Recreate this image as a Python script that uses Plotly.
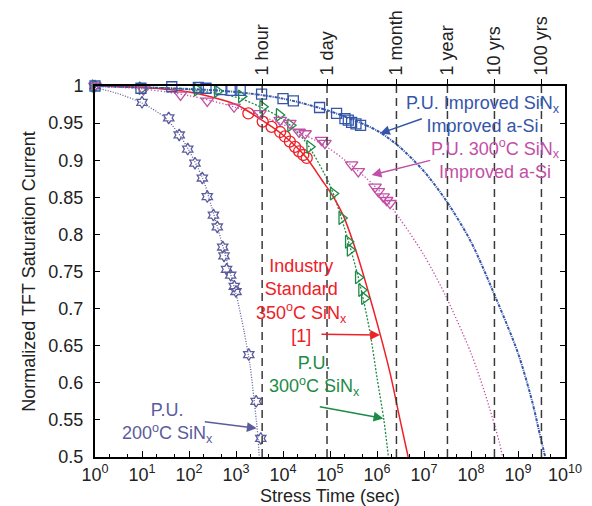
import plotly.graph_objects as go
import math

# ---------------- data ----------------
# P.U. Improved SiNx / Improved a-Si (blue squares)
blue_t = [1, 9.5, 43, 158, 230, 480, 815, 1230, 3500, 10000, 16600, 60000, 138000, 208000, 245000, 288000, 357000, 447000]
blue_v = [1.0, 0.997, 0.999, 0.998, 0.997, 0.995, 0.994, 0.994, 0.989, 0.983, 0.980, 0.971, 0.963, 0.956, 0.954, 0.951, 0.949, 0.947]
blue_fit_t = [1, 10, 100, 1e3, 1e4, 1e5, 1e6, 3e6, 1e7, 3e7, 1e8, 3e8, 1e9, 2e9, 3e9, 3.8e9]
blue_fit_v = [1.0, 0.998, 0.996, 0.992, 0.983, 0.966, 0.940, 0.918, 0.885, 0.845, 0.790, 0.722, 0.640, 0.575, 0.527, 0.5]

# P.U. 300C SiNx / Improved a-Si (magenta down triangles)
mag_t = [1, 10.7, 66, 245, 910, 3230, 8700, 14000, 22000, 29500, 66000, 78000, 288000, 400000, 910000, 1070000, 1350000, 1600000, 1900000]
mag_v = [1.0, 0.995, 0.988, 0.980, 0.972, 0.963, 0.954, 0.950, 0.938, 0.936, 0.927, 0.923, 0.894, 0.885, 0.864, 0.858, 0.851, 0.846, 0.842]
mag_fit_t = [1, 10, 100, 1e3, 1e4, 1e5, 1e6, 3e6, 1e7, 3e7, 1e8, 2e8, 4e8, 4.7e8]
mag_fit_v = [1.0, 0.996, 0.987, 0.971, 0.948, 0.915, 0.862, 0.822, 0.772, 0.715, 0.640, 0.585, 0.520, 0.5]

# Industry standard 350C SiNx [1] (red circles)
red_t = [1830, 3700, 5700, 8700, 11000, 14000, 18000, 22000, 27000, 32000]
red_v = [0.963, 0.952, 0.945, 0.938, 0.932, 0.925, 0.918, 0.912, 0.907, 0.903]
red_fit_t = [1, 10, 100, 1e3, 3e3, 1e4, 3e4, 6.6e4, 1.17e5, 1.9e5, 3.7e5, 6e5, 1.15e6, 1.9e6, 3.1e6, 4.6e6]
red_fit_v = [1.0, 0.998, 0.992, 0.975, 0.957, 0.934, 0.905, 0.874, 0.851, 0.826, 0.775, 0.731, 0.667, 0.613, 0.550, 0.5]

# P.U. 300C SiNx (green right triangles)
grn_t = [1, 10, 150, 400, 1300, 3700, 8300, 14500, 37000, 117000, 178000, 245000, 268000, 400000, 470000, 540000]
grn_v = [1.0, 0.997, 0.995, 0.993, 0.986, 0.972, 0.961, 0.947, 0.918, 0.855, 0.822, 0.790, 0.779, 0.742, 0.725, 0.714]
grn_fit_t = [1, 10, 100, 1e3, 3e3, 1e4, 3e4, 1e5, 2e5, 4e5, 7e5, 1e6, 1.4e6, 1.75e6]
grn_fit_v = [1.0, 0.999, 0.995, 0.985, 0.973, 0.955, 0.925, 0.866, 0.810, 0.742, 0.670, 0.607, 0.550, 0.5]

# P.U. 200C SiNx (slate stars)
sl_t = [1, 10, 37, 62, 94, 134, 192, 245, 331, 400, 522, 556, 630, 770, 920, 1000, 1870, 2680, 3370]
sl_v = [1.0, 0.978, 0.957, 0.934, 0.915, 0.896, 0.876, 0.851, 0.826, 0.810, 0.783, 0.771, 0.753, 0.745, 0.730, 0.723, 0.638, 0.575, 0.525]
sl_fit_t = [1, 3, 10, 30, 60, 100, 200, 300, 500, 700, 1000, 1500, 2000, 2400, 2700, 2950, 3130]
sl_fit_v = [0.998, 0.990, 0.977, 0.958, 0.936, 0.913, 0.874, 0.838, 0.789, 0.755, 0.720, 0.668, 0.622, 0.580, 0.550, 0.525, 0.5]

# top axis (time marks)
top_vals = [3600, 86400, 2592000, 31536000, 315360000, 3153600000]
top_text = ["1 hour", "1 day", "1 month", "1 year", "10 yrs", "100 yrs"]

bottom_vals = [10 ** k for k in range(0, 11)]
bottom_text = ["10<sup>%d</sup>" % k for k in range(0, 11)]
y_vals = [0.5, 0.55, 0.6, 0.65, 0.7, 0.75, 0.8, 0.85, 0.9, 0.95, 1.0]
y_text = ["0.5", "0.55", "0.6", "0.65", "0.7", "0.75", "0.8", "0.85", "0.9", "0.95", "1"]

# ---------------- style ----------------
BLUE = "#3556a8"
MAG = "#c24fa6"
RED = "#ee2028"
GRN = "#1d8b45"
SL = "#5b5c9c"
FONT = "Arial, Liberation Sans, sans-serif"
FS = 18

fig = go.Figure()

# dashed time marker lines (on top axis)
for v in top_vals:
    fig.add_trace(go.Scatter(x=[v, v], y=[0.5, 1.0], mode="lines", xaxis="x2", yaxis="y",
                             line=dict(color="#3a3a3a", width=1.5, dash="8px,5px"),
                             hoverinfo="skip", showlegend=False))

def fit(t, v, color, dash, width):
    fig.add_trace(go.Scatter(x=t, y=v, mode="lines",
                             line=dict(color=color, width=width, dash=dash, shape="spline", smoothing=0.8),
                             showlegend=False, hoverinfo="skip"))

def pts(t, v, color, symbol, size):
    fig.add_trace(go.Scatter(x=t, y=v, mode="markers", cliponaxis=False,
                             marker=dict(symbol=symbol, size=size, color=color,
                                         line=dict(color=color, width=1.3)),
                             showlegend=False))

fit(sl_fit_t, sl_fit_v, SL, "1px,1.6px", 1.3)
fit(grn_fit_t, grn_fit_v, GRN, "2px,1.6px", 1.3)
fit(mag_fit_t, mag_fit_v, MAG, "1.3px,2px", 1.3)
fit(red_fit_t, red_fit_v, RED, "solid", 1.5)
fit(blue_fit_t, blue_fit_v, BLUE, "3px,1px,1px,1px", 2)

pts(sl_t, sl_v, SL, "hexagram-open", 9)
pts(red_t, red_v, RED, "circle-open", 11)
pts(grn_t, grn_v, GRN, "triangle-right-open", 11)
pts(mag_t, mag_v, MAG, "triangle-down-open", 11)
pts(blue_t, blue_v, BLUE, "square-open", 10)

L = math.log10

def label(px_x, v, text, color):
    fig.add_annotation(x=px_x, y=v, xref="x", yref="y", text=text, showarrow=False,
                       font=dict(family=FONT, size=FS, color=color), align="center")

def arrow(tail_t, tail_v, head_t, head_v, color):
    fig.add_annotation(x=L(head_t), y=head_v, ax=L(tail_t), ay=tail_v, xref="x", yref="y",
                       axref="x", ayref="y", text="", showarrow=True, arrowhead=2,
                       arrowsize=1.3, arrowwidth=1.5, arrowcolor=color)

label(8.245, 0.961, "P.U. Improved SiN<sub>x</sub><br>Improved a-Si", BLUE)
arrow(10 ** 6.985, 0.9565, 10 ** 6.064, 0.936, BLUE)
label(8.53, 0.902, "P.U. 300<sup>o</sup>C SiN<sub>x</sub><br>Improved a-Si", MAG)
arrow(10 ** 7.164, 0.9003, 10 ** 5.887, 0.880, MAG)
label(4.394, 0.710, "Industry<br>Standard<br>350<sup>o</sup>C SiN<sub>x</sub><br>[1]", RED)
arrow(10 ** 4.787, 0.6654, 10 ** 6.064, 0.6644, RED)
label(4.66, 0.609, "P.U.<br>300<sup>o</sup>C SiN<sub>x</sub>", GRN)
arrow(10 ** 4.751, 0.568, 10 ** 6.134, 0.552, GRN)
label(1.55, 0.5465, "P.U.<br>200<sup>o</sup>C SiN<sub>x</sub>", SL)
arrow(10 ** 2.304, 0.5476, 10 ** 3.44, 0.5387, SL)

# the page places the plot 8px in from the top-left corner, so the figure is
# sized 8px smaller and its margins shifted to land the axes where the reference has them
fig.update_layout(
    width=584, height=498,
    margin=dict(l=87, r=27, t=78, b=49),
    paper_bgcolor="white", plot_bgcolor="white",
    font=dict(family=FONT, size=FS, color="#222"),
    showlegend=False,
    xaxis=dict(type="log", range=[0, 10], tickvals=bottom_vals, ticktext=bottom_text,
               ticks="inside", ticklen=6, tickwidth=1.2, tickcolor="black",
               minor=dict(ticks="inside", ticklen=3, tickcolor="black", showgrid=False),
               showline=True, linecolor="black", linewidth=2, mirror=True,
               showgrid=False, zeroline=False, tickfont=dict(size=FS), automargin=False,
               title=dict(text="Stress Time (sec)", font=dict(size=FS), standoff=12)),
    xaxis2=dict(type="log", range=[0, 10], overlaying="x", side="top",
                tickvals=top_vals, ticktext=top_text, tickangle=-90,
                ticks="outside", ticklen=6, tickcolor="black", tickwidth=1.2, automargin=False,
                showgrid=False, zeroline=False, showline=False, tickfont=dict(size=FS)),
    yaxis=dict(range=[0.5, 1.0], tickvals=y_vals, ticktext=y_text,
               ticks="inside", ticklen=5, tickwidth=1.2, tickcolor="black",
               showline=True, linecolor="black", linewidth=2, mirror="ticks",
               showgrid=False, zeroline=False, tickfont=dict(size=FS), ticklabelstandoff=6,
               automargin=False,
               title=dict(text="Normalized TFT Saturation Current", font=dict(size=FS), standoff=8)),
)

fig.write_html("out.html")
